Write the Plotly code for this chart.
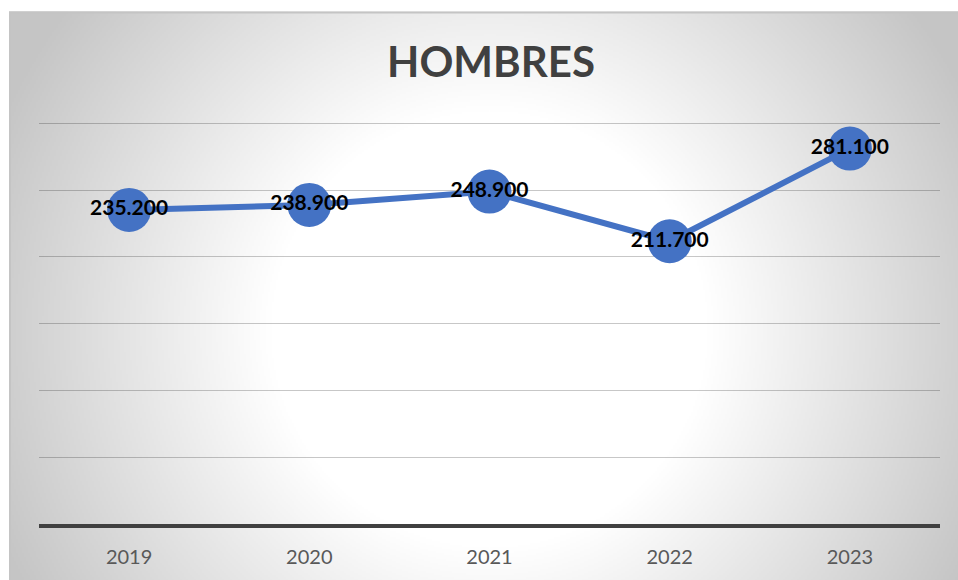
import base64
import struct
import zlib

import numpy as np
import plotly.graph_objects as go

# ---- data ----
years = ["2019", "2020", "2021", "2022", "2023"]
hombres = [235200, 238900, 248900, 211700, 281100]
title_text = "HOMBRES"

# ---- layout geometry (pixels, page coordinates) ----
W, H = 958, 580
Y_TOP = 301000  # keep the 300.000 gridline just inside the plot area
PLOT_L, PLOT_R = 39, 940
AXIS_Y, GRID300_Y = 524, 123
PH = (AXIS_Y - GRID300_Y) * Y_TOP / 300000
ML = PLOT_L
MR = W - PLOT_R
MB = H - AXIS_Y
MT = H - MB - PH
PW = W - ML - MR
BOX = (9, 11, 958, 580)  # chart box


def px_to_paper_x(px):
    return (px - ML) / PW


def py_to_paper_y(py):
    return (H - MB - py) / PH


# ---- radial gradient background as PNG ----
def gradient_png(w, h, scale):
    ys, xs = np.mgrid[0:h, 0:w].astype(float)
    X = BOX[0] + (xs + 0.5) * scale
    Y = BOX[1] + (ys + 0.5) * scale
    cx, cy = 490.0, 330.0
    r = np.sqrt((X - cx) ** 2 + (Y - cy) ** 2)
    c = 255.0 - np.clip(r - 220.0, 0, None) * 0.184
    c = np.clip(c, 197, 255).astype(np.uint8)
    raw = b"".join(b"\x00" + c[i].tobytes() for i in range(h))

    def chunk(t, d):
        ch = struct.pack(">I", len(d)) + t + d
        return ch + struct.pack(">I", zlib.crc32(t + d) & 0xFFFFFFFF)

    png = b"\x89PNG\r\n\x1a\n"
    png += chunk(b"IHDR", struct.pack(">IIBBBBB", w, h, 8, 0, 0, 0, 0))
    png += chunk(b"IDAT", zlib.compress(raw, 9))
    png += chunk(b"IEND", b"")
    return "data:image/png;base64," + base64.b64encode(png).decode()


bw, bh = BOX[2] - BOX[0] + 4, BOX[3] - BOX[1] + 4
scale = 2
img_src = gradient_png(bw // scale + 1, bh // scale + 1, scale)

FONT = "Lato, 'Open Sans', sans-serif"

fig = go.Figure()
fig.add_trace(
    go.Scatter(
        x=years,
        y=hombres,
        mode="lines+markers+text",
        line=dict(color="#4472C4", width=6),
        marker=dict(color="#4472C4", size=44),
        text=hombres,
        texttemplate="%{y:,.0f}",
        textposition="middle center",
        textfont=dict(family=FONT, size=21, color="#000000", weight="bold"),
        cliponaxis=False,
        hoverinfo="skip",
        showlegend=False,
    )
)

bx0 = px_to_paper_x(BOX[0] + 1)
by0 = py_to_paper_y(BOX[1] + 1)
bx1 = px_to_paper_x(BOX[2] + 4)
by1 = py_to_paper_y(BOX[3] + 4)

fig.update_layout(
    width=W,
    height=H,
    margin=dict(l=ML, r=MR, t=MT, b=MB, pad=0),
    paper_bgcolor="#ffffff",
    plot_bgcolor="rgba(0,0,0,0)",
    separators=",.",
    showlegend=False,
    title=dict(
        text=title_text,
        x=491 / W,
        xref="container",
        xanchor="center",
        y=(H - 62) / H,
        yref="container",
        yanchor="middle",
        font=dict(family=FONT, size=42, color="#404040", weight="bold"),
    ),
    images=[
        dict(
            source=img_src,
            xref="paper",
            yref="paper",
            x=px_to_paper_x(BOX[0]),
            y=py_to_paper_y(BOX[1]),
            sizex=bw / PW,
            sizey=bh / PH,
            xanchor="left",
            yanchor="top",
            sizing="stretch",
            layer="below",
        )
    ],
    shapes=[
        dict(
            type="path",
            xref="paper",
            yref="paper",
            path=f"M {bx0} {by1} L {bx0} {by0} L {bx1} {by0}",
            line=dict(color="#c4c4c4", width=2),
            layer="below",
        )
    ],
    xaxis=dict(
        type="category",
        range=[-0.5, 4.5],
        showgrid=False,
        showline=True,
        linecolor="#404040",
        linewidth=3.5,
        ticks="",
        tickfont=dict(family=FONT, size=20, color="#595959"),
        ticklabelstandoff=12,
        fixedrange=True,
    ),
    yaxis=dict(
        range=[0, Y_TOP],
        tick0=0,
        dtick=50000,
        showgrid=True,
        gridcolor="rgba(0,0,0,0.22)",
        gridwidth=1.3,
        zeroline=False,
        showticklabels=False,
        ticks="",
        fixedrange=True,
    ),
)

fig.write_html(
    "out.html",
    config={"displayModeBar": False},
    post_script="document.body.style.margin='0';document.body.style.overflow='hidden';",
)
